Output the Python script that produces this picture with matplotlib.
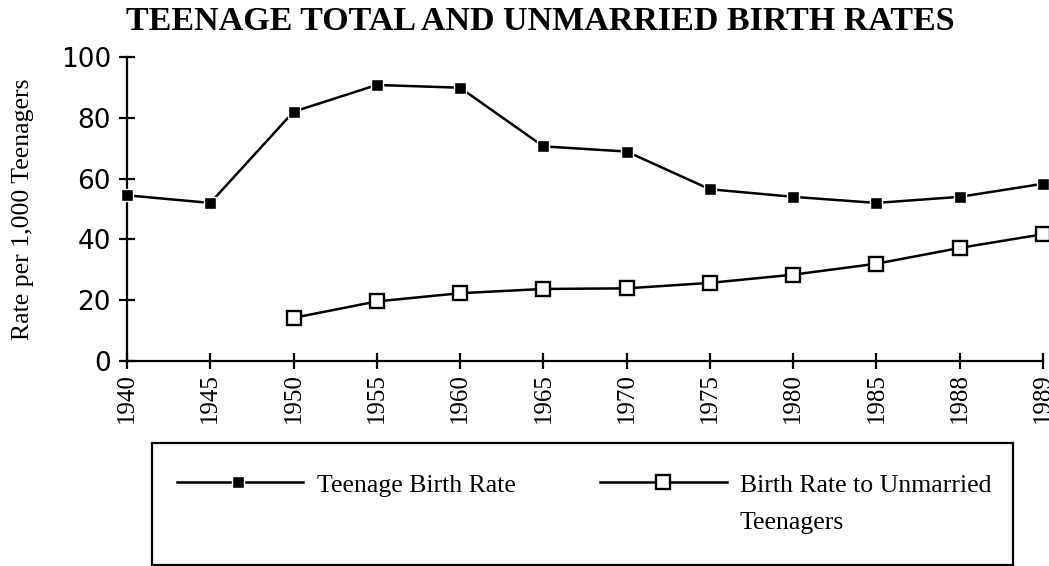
import matplotlib
matplotlib.use("Agg")
import matplotlib.pyplot as plt
from matplotlib.lines import Line2D

years = ["1940", "1945", "1950", "1955", "1960", "1965", "1970", "1975", "1980", "1985", "1988", "1989"]
teen_rate = [54.5, 52, 82, 90.8, 89.9, 70.6, 68.9, 56.5, 54, 52, 54, 58.3]
unmarried_years = ["1950", "1955", "1960", "1965", "1970", "1975", "1980", "1985", "1988", "1989"]
unmarried_rate = [14.2, 19.6, 22.3, 23.7, 23.9, 25.7, 28.4, 32, 37.2, 41.7]
yticks = [0, 20, 40, 60, 80, 100]

W, H = 1049, 566
fig = plt.figure(figsize=(W / 100, H / 100), dpi=100)

ax = fig.add_axes([127 / W, 1 - 361 / H, (1043 - 127) / W, (361 - 57) / H])
xpos = list(range(len(years)))
ux = [years.index(y) for y in unmarried_years]

ax.plot(xpos, teen_rate, color="black", lw=1.8, marker="s", ms=8.5,
        mfc="black", mec="white", mew=1.0, clip_on=False, zorder=3)
ax.plot(ux, unmarried_rate, color="black", lw=1.8, marker="s", ms=9.5,
        mfc="white", mec="black", mew=1.7, clip_on=False, zorder=3)

ax.set_xlim(0, len(years) - 1)
ax.set_ylim(0, 100)
ax.set_xticks(xpos)
ax.set_xticklabels(years, rotation=90, fontsize=18, family="Liberation Serif")
ax.set_yticks(yticks)
ax.set_yticklabels([str(v) for v in yticks], fontsize=19, family="DejaVu Sans")
for s in ["top", "right"]:
    ax.spines[s].set_visible(False)
for s in ["left", "bottom"]:
    ax.spines[s].set_linewidth(1.6)
ax.tick_params(axis="both", direction="inout", length=12, width=1.6, colors="black")
ax.tick_params(axis="y", pad=5.5)
ax.tick_params(axis="x", pad=3)
ax.set_ylabel("Rate per 1,000 Teenagers", family="Liberation Serif", fontsize=18.5)
ax.yaxis.set_label_coords(-93 / (1043 - 127), 0.5)

fig.text(540 / W, 1 - 22 / H, "TEENAGE TOTAL AND UNMARRIED BIRTH RATES", ha="center", va="center",
         family="Liberation Serif", fontweight="bold", fontsize=24.5)

# legend box
lax = fig.add_axes([152 / W, 1 / H, (1013 - 152) / W, (565 - 443) / H])
lax.set_xlim(152, 1013)
lax.set_ylim(565, 443)
lax.set_xticks([])
lax.set_yticks([])
lax.patch.set_alpha(0)
for s in lax.spines.values():
    s.set_linewidth(1.6)
lax.add_line(Line2D([177, 303], [482, 482], color="black", lw=1.8))
lax.add_line(Line2D([238], [482], color="black", marker="s", ms=8.5, mfc="black", mec="white", mew=1.0))
lax.text(317, 486, "Teenage Birth Rate", family="Liberation Serif", fontsize=18.5, va="center", ha="left")
lax.add_line(Line2D([600, 727], [482, 482], color="black", lw=1.8))
lax.add_line(Line2D([663], [482], color="black", marker="s", ms=9.5, mfc="white", mec="black", mew=1.7))
lax.text(740, 486, "Birth Rate to Unmarried", family="Liberation Serif", fontsize=18.5, va="center", ha="left")
lax.text(740, 523, "Teenagers", family="Liberation Serif", fontsize=18.5, va="center", ha="left")

fig.savefig("out.png", dpi=100)
